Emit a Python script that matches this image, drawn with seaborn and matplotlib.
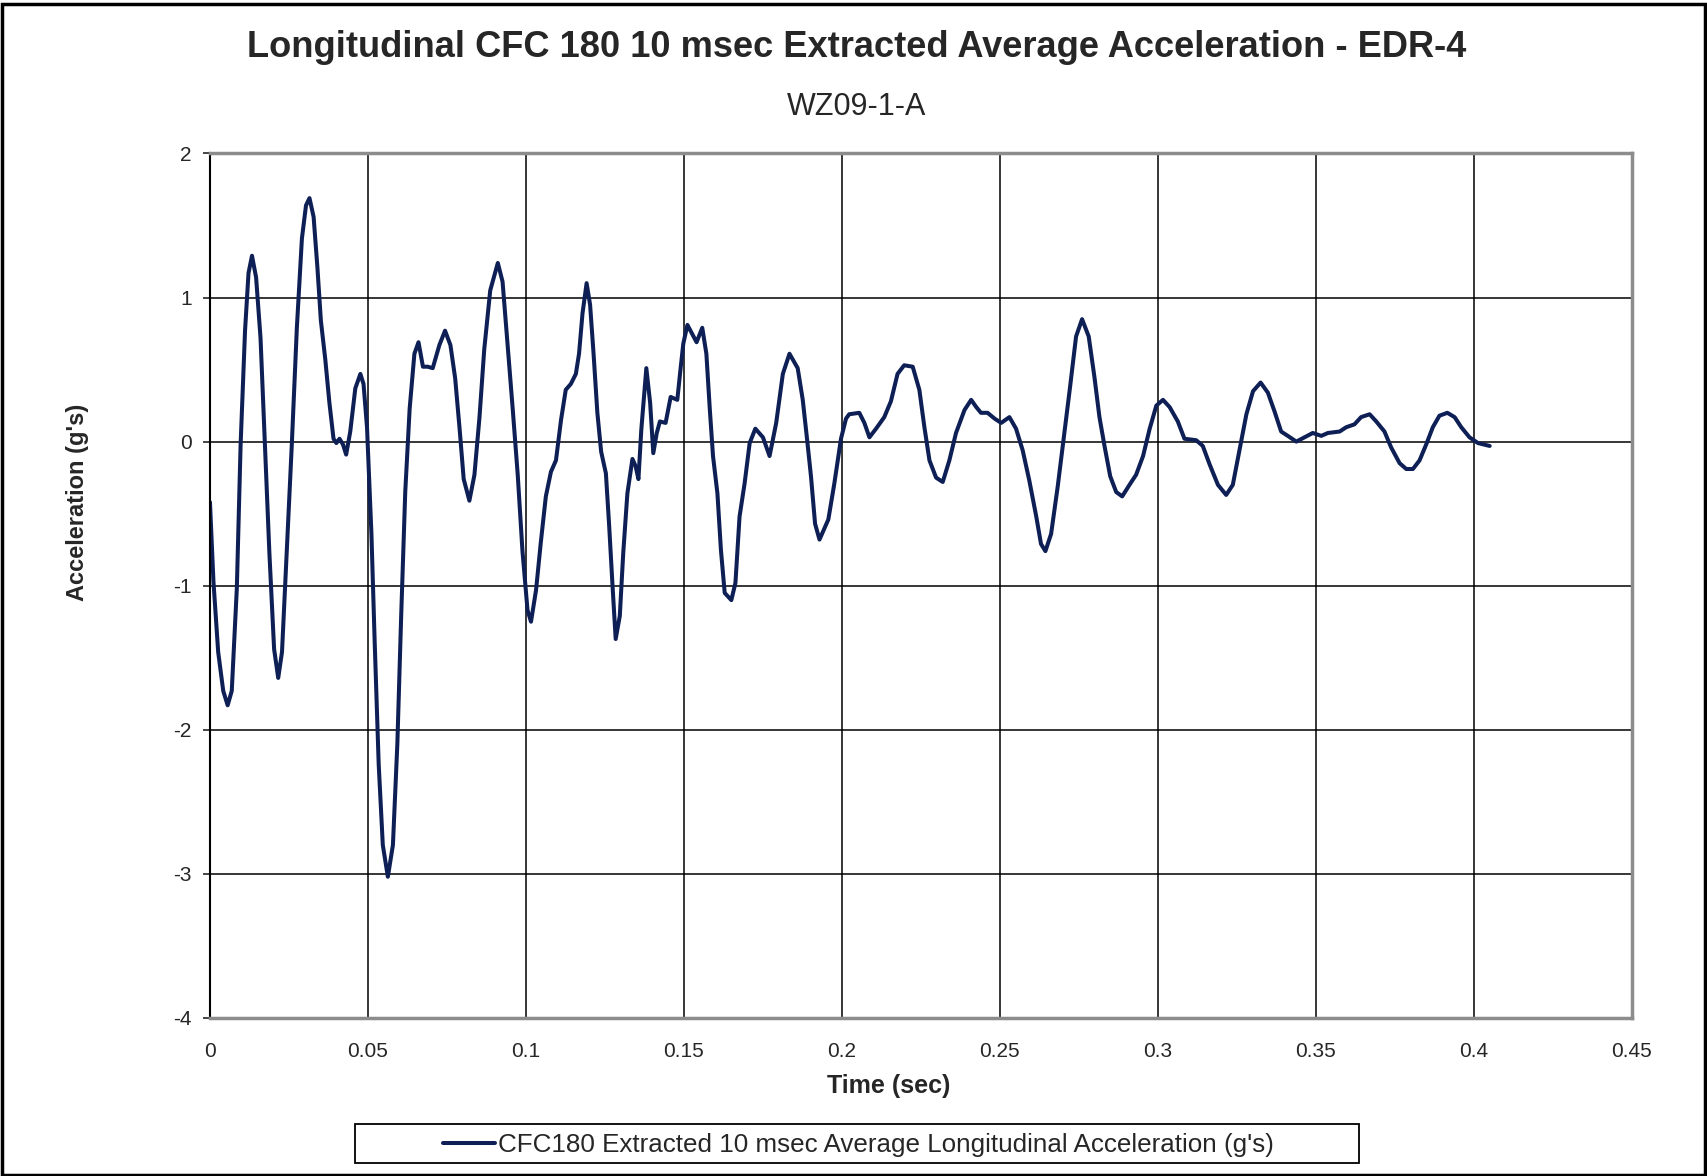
import pandas as pd
import matplotlib.pyplot as plt
import seaborn as sns
from matplotlib.patches import Rectangle

# time (sec)
time_s = [
    0.0000, 0.0011, 0.0026, 0.0042, 0.0056, 0.0069, 0.0085, 0.0097, 0.0111, 0.0122,
    0.0133, 0.0146, 0.0160, 0.0174, 0.0188, 0.0203, 0.0216, 0.0228, 0.0243, 0.0259,
    0.0275, 0.0291, 0.0304, 0.0315, 0.0328, 0.0340, 0.0351, 0.0365, 0.0378, 0.0391,
    0.0400, 0.0410, 0.0421, 0.0431, 0.0444, 0.0460, 0.0476, 0.0486, 0.0497, 0.0511,
    0.0521, 0.0534, 0.0547, 0.0563, 0.0579, 0.0593, 0.0605, 0.0618, 0.0632, 0.0647,
    0.0660, 0.0674, 0.0689, 0.0705, 0.0726, 0.0744, 0.0761, 0.0776, 0.0790, 0.0803,
    0.0821, 0.0837, 0.0853, 0.0868, 0.0887, 0.0911, 0.0926, 0.0942, 0.0958, 0.0974,
    0.0989, 0.1005, 0.1016, 0.1032, 0.1047, 0.1063, 0.1079, 0.1095, 0.1111, 0.1126,
    0.1142, 0.1158, 0.1168, 0.1179, 0.1192, 0.1203, 0.1214, 0.1226, 0.1238, 0.1253,
    0.1263, 0.1274, 0.1284, 0.1297, 0.1308, 0.1321, 0.1337, 0.1347, 0.1356, 0.1365,
    0.1381, 0.1393, 0.1403, 0.1414, 0.1424, 0.1442, 0.1458, 0.1479, 0.1489, 0.1498,
    0.1511, 0.1540, 0.1558, 0.1571, 0.1582, 0.1592, 0.1606, 0.1617, 0.1629, 0.1650,
    0.1663, 0.1676, 0.1692, 0.1708, 0.1726, 0.1750, 0.1771, 0.1792, 0.1813, 0.1834,
    0.1860, 0.1876, 0.1890, 0.1902, 0.1915, 0.1929, 0.1957, 0.1976, 0.1997, 0.2013,
    0.2023, 0.2055, 0.2071, 0.2087, 0.2108, 0.2134, 0.2155, 0.2176, 0.2197, 0.2224,
    0.2245, 0.2261, 0.2277, 0.2298, 0.2319, 0.2340, 0.2361, 0.2388, 0.2409, 0.2425,
    0.2440, 0.2461, 0.2483, 0.2504, 0.2530, 0.2551, 0.2572, 0.2593, 0.2615, 0.2630,
    0.2644, 0.2662, 0.2683, 0.2704, 0.2722, 0.2741, 0.2760, 0.2781, 0.2799, 0.2815,
    0.2831, 0.2849, 0.2868, 0.2887, 0.2910, 0.2931, 0.2953, 0.2974, 0.2995, 0.3016,
    0.3037, 0.3063, 0.3084, 0.3121, 0.3142, 0.3164, 0.3190, 0.3216, 0.3237, 0.3258,
    0.3280, 0.3301, 0.3325, 0.3348, 0.3369, 0.3390, 0.3411, 0.3438, 0.3464, 0.3490,
    0.3517, 0.3538, 0.3575, 0.3596, 0.3622, 0.3643, 0.3670, 0.3691, 0.3717, 0.3738,
    0.3765, 0.3786, 0.3807, 0.3828, 0.3849, 0.3870, 0.3891, 0.3916, 0.3939, 0.3960,
    0.3986, 0.4013, 0.4050]

# acceleration (g's) at those times
accel_g = [
    -0.42, -0.97, -1.46, -1.73, -1.83, -1.73, -1.02, -0.02, 0.77, 1.17,
    1.29, 1.14, 0.72, -0.02, -0.77, -1.44, -1.64, -1.46, -0.77, -0.02,
    0.79, 1.41, 1.64, 1.69, 1.56, 1.21, 0.84, 0.57, 0.27, 0.02,
    -0.01, 0.02, -0.02, -0.09, 0.07, 0.37, 0.47, 0.40, 0.10, -0.64,
    -1.37, -2.24, -2.80, -3.02, -2.80, -2.10, -1.22, -0.35, 0.23, 0.61,
    0.69, 0.52, 0.52, 0.51, 0.67, 0.77, 0.67, 0.44, 0.09, -0.26,
    -0.41, -0.23, 0.17, 0.64, 1.05, 1.24, 1.11, 0.67, 0.23, -0.23,
    -0.76, -1.17, -1.25, -1.03, -0.70, -0.38, -0.21, -0.13, 0.15, 0.36,
    0.40, 0.47, 0.61, 0.89, 1.10, 0.95, 0.61, 0.20, -0.07, -0.22,
    -0.57, -1.00, -1.37, -1.21, -0.77, -0.36, -0.12, -0.17, -0.26, 0.08,
    0.51, 0.27, -0.08, 0.06, 0.14, 0.13, 0.31, 0.29, 0.50, 0.68,
    0.81, 0.69, 0.79, 0.61, 0.22, -0.10, -0.36, -0.75, -1.05, -1.10,
    -0.98, -0.52, -0.29, -0.01, 0.09, 0.03, -0.10, 0.13, 0.47, 0.61,
    0.51, 0.29, 0.01, -0.24, -0.57, -0.68, -0.54, -0.29, 0.02, 0.16,
    0.19, 0.20, 0.13, 0.03, 0.09, 0.17, 0.28, 0.47, 0.53, 0.52,
    0.36, 0.10, -0.13, -0.25, -0.28, -0.13, 0.06, 0.22, 0.29, 0.24,
    0.20, 0.20, 0.16, 0.13, 0.17, 0.09, -0.06, -0.27, -0.52, -0.71,
    -0.76, -0.64, -0.31, 0.06, 0.38, 0.73, 0.85, 0.73, 0.45, 0.17,
    -0.03, -0.24, -0.35, -0.38, -0.30, -0.23, -0.10, 0.09, 0.25, 0.29,
    0.24, 0.14, 0.02, 0.01, -0.03, -0.16, -0.30, -0.37, -0.30, -0.06,
    0.19, 0.35, 0.41, 0.34, 0.21, 0.07, 0.04, 0.00, 0.03, 0.06,
    0.04, 0.06, 0.07, 0.10, 0.12, 0.17, 0.19, 0.14, 0.07, -0.04,
    -0.15, -0.19, -0.19, -0.13, -0.02, 0.10, 0.18, 0.20, 0.17, 0.10,
    0.03, -0.01, -0.03]

x_ticks = [0, 0.05, 0.1, 0.15, 0.2, 0.25, 0.3, 0.35, 0.4, 0.45]
y_ticks = [-4, -3, -2, -1, 0, 1, 2]
series_name = "CFC180 Extracted 10 msec Average Longitudinal Acceleration (g's)"

df = pd.DataFrame({'t': time_s, 'a': accel_g, 'series': series_name})

sns.set_style('white')
plt.rcParams['font.family'] = ['Liberation Sans', 'DejaVu Sans']
plt.rcParams['axes.unicode_minus'] = False

fig = plt.figure(figsize=(17.07, 11.76), dpi=100)
ax = fig.add_axes([0.123, 0.1344, 0.833, 0.7351])

sns.lineplot(data=df, x='t', y='a', hue='series', palette=['#0d1f55'],
             linewidth=2.9, ax=ax, legend=True, sort=False,
             solid_joinstyle='round', solid_capstyle='round')

ax.set_xlim(0, 0.45)
ax.set_ylim(-4, 2)
ax.set_xticks(x_ticks)
ax.set_xticklabels(['%g' % v for v in x_ticks])
ax.set_yticks(y_ticks)
ax.set_yticklabels(['%g' % v for v in y_ticks])
ax.grid(True, color='black', linewidth=1.1)
ax.set_axisbelow(True)

for s in ['top', 'right', 'bottom']:
    ax.spines[s].set_color('#8c8c8c')
    ax.spines[s].set_linewidth(2.5)
ax.spines['left'].set_color('black')
ax.spines['left'].set_linewidth(1.5)

ax.tick_params(axis='y', left=True, length=5, width=1.2, labelsize=15, pad=8)
ax.tick_params(axis='x', bottom=False, labelsize=15, pad=14)

ax.set_xlabel('Time (sec)', fontsize=18, fontweight='bold')
ax.xaxis.set_label_coords(0.477, -0.065)
ax.set_ylabel("Acceleration (g's)", fontsize=17, fontweight='bold')
ax.yaxis.set_label_coords(-0.085, 0.596)

fig.text(0.502, 0.960, 'Longitudinal CFC 180 10 msec Extracted Average Acceleration - EDR-4',
         ha='center', va='center', fontsize=26.1, fontweight='bold')
fig.text(0.502, 0.909, 'WZ09-1-A', ha='center', va='center', fontsize=22)

leg = ax.legend(loc='center', bbox_to_anchor=(0.503, 0.026), bbox_transform=fig.transFigure,
                fontsize=18.7, frameon=False, handlelength=2.0,
                handletextpad=0.1, borderaxespad=0)
for h in leg.get_lines():
    h.set_linewidth(2.9)

# legend box and outer chart border
fig.patches.append(Rectangle((0.208, 0.011), 0.588, 0.0332, transform=fig.transFigure,
                             fill=False, edgecolor='black', linewidth=1.3))
fig.patches.append(Rectangle((0.001, 0.001), 0.998, 0.996, transform=fig.transFigure,
                             fill=False, edgecolor='black', linewidth=2.5))

fig.savefig('out.png', dpi=100)
